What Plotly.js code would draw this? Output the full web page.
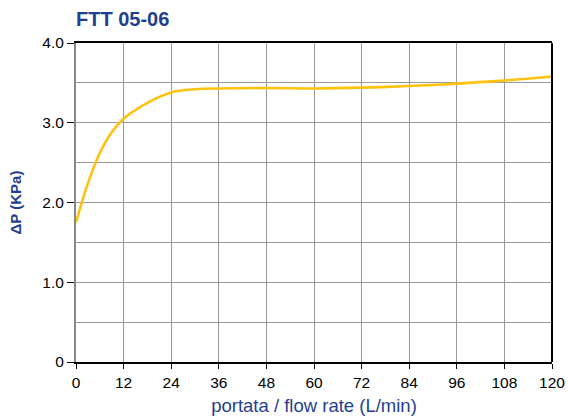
<!DOCTYPE html>
<html>
<head>
<meta charset="utf-8">
<script src="https://cdn.plot.ly/plotly-3.0.1.min.js"></script>
<style>html,body{margin:0;padding:0;background:#fff}#chart{width:568px;height:416px}</style>
</head>
<body>
<div id="chart"></div>
<script>
const flowRate = [0, 3, 6, 9, 12, 18, 24, 30, 36, 48, 60, 72, 84, 96, 108, 120];
const deltaP = [1.75, 2.24, 2.62, 2.88, 3.05, 3.25, 3.38, 3.42, 3.43, 3.435, 3.43, 3.44, 3.46, 3.49, 3.53, 3.58];
const xTicks = [0, 12, 24, 36, 48, 60, 72, 84, 96, 108, 120];
const yTickVals = [0, 1, 2, 3, 4];
const yTickText = ['0', '1.0', '2.0', '3.0', '4.0'];

const blue = '#1f3f8f';
const trace = {
  x: flowRate, y: deltaP, type: 'scatter', mode: 'lines',
  line: {color: '#FFC20E', width: 2.6, shape: 'spline', smoothing: 1},
  hoverinfo: 'none'
};
const layout = {
  width: 568, height: 416,
  margin: {l: 76, r: 15.5, t: 43, b: 54},
  paper_bgcolor: '#fff', plot_bgcolor: '#fff',
  font: {family: 'Liberation Sans, Arial, sans-serif', size: 15.5, color: '#000'},
  showlegend: false,
  title: {text: '<b>FTT 05-06</b>', x: 76/568, xanchor: 'left', y: 1 - 18.8/416, yanchor: 'middle',
          font: {size: 20, color: blue}},
  xaxis: {
    range: [0, 120], tickvals: xTicks, ticktext: xTicks.map(String),
    showgrid: true, gridcolor: '#999', gridwidth: 1,
    showline: true, linecolor: '#000', linewidth: 2, mirror: true,
    ticks: 'outside', ticklen: 5, tickcolor: '#000', tickwidth: 1,
    tickfont: {size: 15.5},
    zeroline: false, fixedrange: true,
    title: {text: 'portata / flow rate (L/min)', font: {size: 18.5, color: blue}, standoff: 11}
  },
  yaxis: {
    range: [0, 4], tickvals: yTickVals, ticktext: yTickText,
    showgrid: true, gridcolor: '#999', gridwidth: 1,
    minor: {dtick: 0.5, showgrid: true, gridcolor: '#999', gridwidth: 1, ticks: ''},
    showline: true, linecolor: '#888', linewidth: 2, mirror: false,
    ticks: 'outside', ticklen: 7, tickcolor: '#000', tickwidth: 1,
    tickfont: {size: 15.5},
    zeroline: false, fixedrange: true,
    title: {text: '<b>ΔP (KPa)</b>', font: {size: 15, color: blue}, standoff: 17}
  },
  shapes: [
    {type: 'line', xref: 'paper', yref: 'paper', x0: 1, x1: 1, y0: 0, y1: 1,
     line: {color: '#000', width: 2}}
  ]
};
Plotly.newPlot('chart', [trace], layout, {staticPlot: true, displayModeBar: false});
</script>
</body>
</html>
